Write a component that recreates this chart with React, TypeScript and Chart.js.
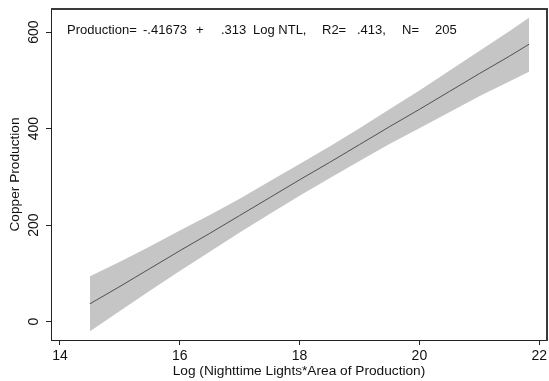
import React, { useEffect, useRef } from "react";
import { Chart, registerables } from "chart.js";

Chart.register(...registerables);

const xVals = [14.5, 15, 15.5, 16, 16.5, 17, 17.5, 18, 18.5, 19, 19.5, 20, 20.5, 21, 21.5, 21.83];
const fitVals = [37, 73, 110, 147, 183, 220, 257, 294, 330, 367, 404, 440, 477, 514, 550, 575];
const upperVals = [94, 124, 156, 189, 221, 255, 291, 327, 363, 401, 440, 479, 520, 561, 602, 630];
const lowerVals = [-20, 22, 64, 105, 145, 185, 223, 261, 297, 333, 368, 401, 434, 467, 498, 518];
const xTicks = [14, 16, 18, 20, 22];
const yTicks = [0, 200, 400, 600];
const annotationParts = ["Production=", "-.41673", "+", ".313", "Log NTL,", "R2=", ".413,", "N=", "205"];
const annotationX = [67, 143, 196, 221, 253, 322, 357, 402, 435];
const xTitle = "Log (Nighttime Lights*Area of Production)";
const yTitle = "Copper Production";

const FONT = '"Liberation Sans", Arial, Helvetica, sans-serif';
const AXIS = "#222";

const pts = (ys: number[]) => xVals.map((x, i) => ({ x, y: ys[i] }));

export default function App() {
  const ref = useRef<HTMLCanvasElement | null>(null);
  useEffect(() => {
    if (!ref.current) return;
    const textPlugin = {
      id: "texts",
      afterDraw(chart: any) {
        const { ctx, chartArea } = chart;
        ctx.save();
        const l = Math.round(chartArea.left);
        const top = Math.round(chartArea.top);
        const r = Math.round(chartArea.right);
        const b = Math.round(chartArea.bottom);
        ctx.fillStyle = "#3a3a3a";
        ctx.fillRect(l, top - 1, r - l + 1, 2);
        ctx.fillRect(r - 1, top - 1, 2, b - top + 2);
        ctx.fillStyle = "#111";
        ctx.font = `13px ${FONT}`;
        ctx.textAlign = "left";
        ctx.textBaseline = "alphabetic";
        annotationParts.forEach((p, i) => ctx.fillText(p, annotationX[i], 34));
        const ys = chart.scales.y;
        ctx.font = `14px ${FONT}`;
        ctx.textAlign = "center";
        ctx.textBaseline = "middle";
        yTicks.forEach((v) => {
          const py = ys.getPixelForValue(v);
          ctx.save();
          ctx.translate(34, py);
          ctx.rotate(-Math.PI / 2);
          ctx.fillText(String(v), 0, 0);
          ctx.restore();
        });
        ctx.restore();
      },
    };
    const chart = new Chart(ref.current, {
      type: "line",
      data: {
        datasets: [
          { data: pts(fitVals), borderWidth: 1, pointRadius: 0, borderColor: "#505050", fill: false, order: 0 },
          { data: pts(upperVals), borderWidth: 0, pointRadius: 0, backgroundColor: "#c5c5c5", borderColor: "rgba(0,0,0,0)", fill: "+1", order: 1 },
          { data: pts(lowerVals), borderWidth: 0, pointRadius: 0, borderColor: "rgba(0,0,0,0)", fill: false, order: 2 },
        ],
      },
      options: {
        animation: false,
        responsive: false,
        maintainAspectRatio: false,
        layout: { padding: { top: 9, right: 2, left: 0, bottom: 0 } },
        plugins: { legend: { display: false }, tooltip: { enabled: false } },
        scales: {
          x: {
            type: "linear",
            min: 13.85,
            max: 22.13,
            afterBuildTicks: (s: any) => { s.ticks = xTicks.map((v) => ({ value: v })); },
            afterFit: (s: any) => { s.height = 41; s.paddingRight = 0; s.paddingLeft = 0; },
            grid: { drawOnChartArea: false, drawTicks: true, tickLength: 5, color: AXIS },
            border: { display: true, color: AXIS },
            ticks: { color: "#111", font: { family: FONT, size: 14 }, padding: 3, maxRotation: 0, minRotation: 0, callback: (v: any) => String(v) },
            title: { display: true, text: xTitle, color: "#111", font: { family: FONT, size: 13.7 }, padding: { top: 0, bottom: 2 } },
          },
          y: {
            type: "linear",
            min: -38,
            max: 648,
            afterBuildTicks: (s: any) => { s.ticks = yTicks.map((v) => ({ value: v })); },
            afterFit: (s: any) => { s.width = 51; },
            grid: { drawOnChartArea: false, drawTicks: true, tickLength: 5, color: AXIS },
            border: { display: true, color: AXIS },
            ticks: { display: false },
            title: { display: true, text: yTitle, color: "#111", font: { family: FONT, size: 13.7 }, padding: { top: 7, bottom: 0 } },
          },
        },
      },
      plugins: [textPlugin],
    } as any);
    return () => chart.destroy();
  }, []);
  return (
    <div style={{ position: "fixed", left: 0, top: 0, width: 549, height: 381, background: "#fff" }}>
      <canvas ref={ref} width={549} height={381} style={{ display: "block" }} />
    </div>
  );
}
